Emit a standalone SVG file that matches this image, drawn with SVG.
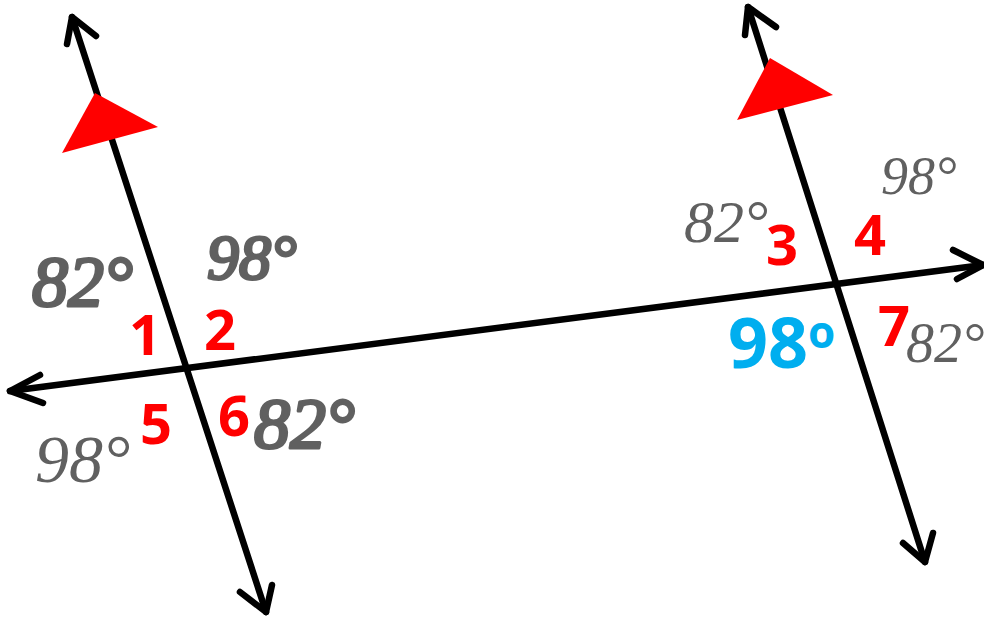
<svg xmlns="http://www.w3.org/2000/svg" width="984" height="618" viewBox="0 0 984 618">
<style>
.ln{stroke:#000;stroke-width:6.5;fill:none;stroke-linecap:round;stroke-linejoin:round}
.tri{fill:#ff0000}
.num{font-family:"Open Sans","Liberation Sans",sans-serif;font-weight:bold;fill:#ff0000;font-size:56px}
.hw{font-family:"Liberation Serif",serif;font-style:italic;fill:#606060}
.hwb{stroke:#606060;stroke-width:3;stroke-linejoin:round}
.blue{font-family:"Open Sans","Liberation Sans",sans-serif;font-weight:bold;fill:#00aeef;font-size:70px}
</style>
<rect width="984" height="618" fill="#fff"/>
<g id="connectors">
<line class="ln" x1="72" y1="17" x2="266" y2="612"/>
<polyline class="ln" points="67,44 72,17 96,36"/>
<polyline class="ln" points="240,592 266,612 272,585"/>
<line class="ln" x1="10" y1="391" x2="983" y2="265"/>
<polyline class="ln" points="40,375 10,391 43,403"/>
<polyline class="ln" points="953,250 983,265 957,279"/>
<line class="ln" x1="748" y1="7" x2="925" y2="562"/>
<polyline class="ln" points="745,35 748,7 776,27"/>
<polyline class="ln" points="903,543 925,562 933,533"/>
</g>
<g id="marker-left"><polygon class="tri" points="62,153 95,93 158,127"/></g>
<g id="marker-right"><polygon class="tri" points="737,120 770,58 833,95"/></g>
<g id="angle-numbers">
<text class="num" x="129" y="355">1</text>
<text class="num" x="204" y="350">2</text>
<text class="num" x="140" y="444">5</text>
<text class="num" x="218" y="436">6</text>
<text class="num" x="766" y="265">3</text>
<text class="num" x="854" y="255">4</text>
<text class="num" x="878" y="346">7</text>
</g>
<g id="angle-values">
<text class="hw hwb" x="32" y="306" font-size="72">82°</text>
<text class="hw hwb" x="207" y="279" font-size="64">98°</text>
<text class="hw" x="35" y="482" font-size="68">98°</text>
<text class="hw hwb" x="254" y="448" font-size="72">82°</text>
<text class="hw" x="684" y="242" font-size="60">82°</text>
<text class="hw" x="881" y="194" font-size="54">98°</text>
<text class="hw" x="906" y="362" font-size="56">82°</text>
<text class="blue" x="728" y="368">98<tspan font-size="44" dy="-20">o</tspan></text>
</g>
</svg>
